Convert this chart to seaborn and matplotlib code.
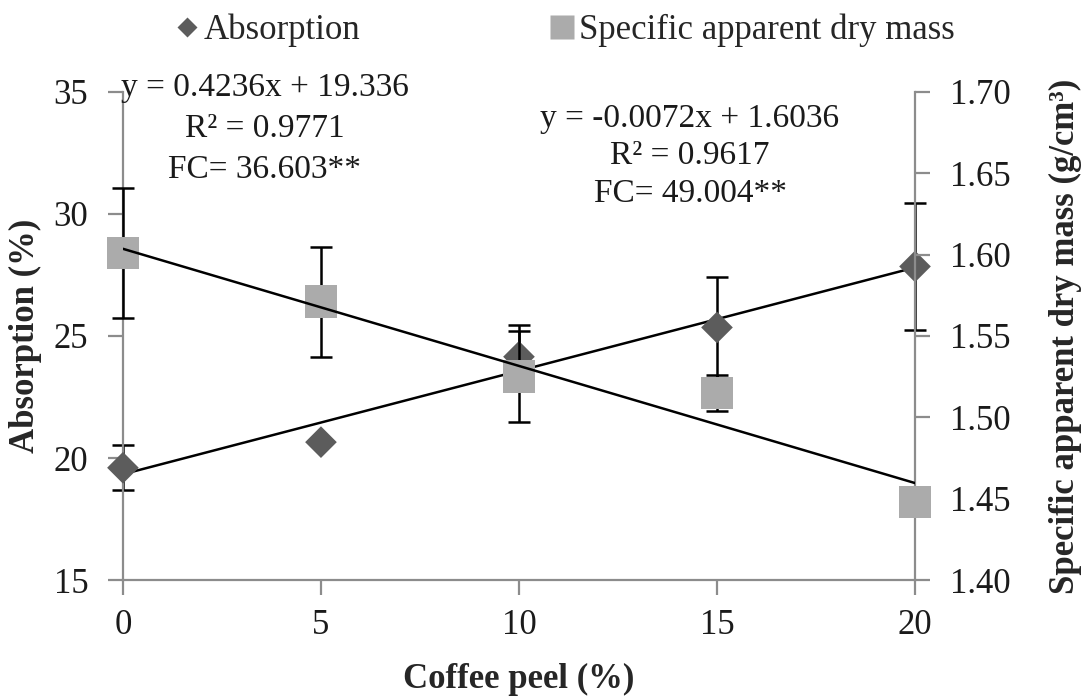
import numpy as np
import pandas as pd
import matplotlib
matplotlib.use("Agg")
import matplotlib.pyplot as plt
from matplotlib.lines import Line2D
import seaborn as sns

# data
coffee_peel = [0, 5, 10, 15, 20]
absorption = [19.6, 20.65, 24.15, 25.35, 27.85]
absorption_err = [0.93, 0.0, 1.3, 2.07, 2.6]
dry_mass = [1.601, 1.571, 1.525, 1.515, 1.448]
dry_mass_err = [0.04, 0.034, 0.028, 0.011, 0.0]

# regression coefficients printed on the chart
abs_fit = (0.4236, 19.336)
mass_fit = (-0.0072, 1.6036)

left_ticks = [15, 20, 25, 30, 35]
right_ticks = [1.40, 1.45, 1.50, 1.55, 1.60, 1.65, 1.70]

sns.set_style("white")
plt.rcParams['font.family'] = ['Liberation Serif', 'DejaVu Serif']

df = pd.DataFrame({"peel": coffee_peel, "absorption": absorption, "mass": dry_mass})
xs = np.array(coffee_peel, dtype=float)
df["abs_line"] = abs_fit[0] * xs + abs_fit[1]
df["mass_line"] = mass_fit[0] * xs + mass_fit[1]

diamond_col = "#5c5c5c"
square_col = "#ababab"
axis_col = "#8c8c8c"

fig = plt.figure(figsize=(10.88, 7.0), dpi=100)
ax = fig.add_axes([0.113, 0.1714, 0.728, 0.6972])
ax2 = ax.twinx()

# absorption on left axis
eb = ax.errorbar(coffee_peel, absorption, yerr=absorption_err, fmt="none",
                 ecolor="black", elinewidth=1.8, capsize=8, capthick=1.8, zorder=2)
for art in eb.get_children():
    art.set_clip_on(False)
sns.lineplot(data=df, x="peel", y="abs_line", ax=ax, color="black", lw=1.8, zorder=3)
sns.scatterplot(data=df, x="peel", y="absorption", ax=ax, marker="D", s=260,
                color=diamond_col, edgecolor="none", zorder=4, clip_on=False)

# dry mass on right axis
eb2 = ax2.errorbar(coffee_peel, dry_mass, yerr=dry_mass_err, fmt="none",
                   ecolor="black", elinewidth=1.8, capsize=8, capthick=1.8, zorder=2)
for art in eb2.get_children():
    art.set_clip_on(False)
sns.scatterplot(data=df, x="peel", y="mass", ax=ax2, marker="s", s=560,
                color=square_col, edgecolor="none", zorder=3, clip_on=False)
sns.lineplot(data=df, x="peel", y="mass_line", ax=ax2, color="black", lw=1.8, zorder=4)

ax.set_xlim(0, 20)
ax.set_ylim(15, 35)
ax2.set_ylim(1.40, 1.70)
ax.set_xticks(coffee_peel)
ax.set_yticks(left_ticks)
ax2.set_yticks(right_ticks)
ax2.set_yticklabels([f"{t:.2f}" for t in right_ticks])

for a in (ax, ax2):
    a.spines["top"].set_visible(False)
    for side in ("left", "right", "bottom"):
        a.spines[side].set_color(axis_col)
        a.spines[side].set_linewidth(1.6)
ax.spines["right"].set_visible(False)
ax2.spines["left"].set_visible(False)
ax2.spines["bottom"].set_visible(False)

ax.tick_params(axis="both", direction="out", length=11, width=1.6, color=axis_col,
               labelsize=25, labelcolor="#1a1a1a")
ax.tick_params(axis="y", pad=14, left=True)
ax.tick_params(axis="x", pad=10, bottom=True)
ax2.tick_params(axis="y", direction="out", length=11, width=1.6, color=axis_col,
                labelsize=25, labelcolor="#1a1a1a", pad=14, right=True)

ax.set_xlabel("Coffee peel (%)", fontsize=25, fontweight="bold", labelpad=15)
ax.set_ylabel("Absorption (%)", fontsize=25, fontweight="bold", labelpad=8)
ax2.set_ylabel("Specific apparent dry mass (g/cm\u00b3)", fontsize=25,
               fontweight="bold", labelpad=28, rotation=90)

ax.annotate("y = 0.4236x + 19.336\nR\u00b2 = 0.9771\nFC= 36.603**",
            xy=(0.179, 1.0), xycoords="axes fraction", xytext=(0, 14),
            textcoords="offset points", ha="center", va="top",
            fontsize=24, linespacing=1.45, color="#1a1a1a")
ax.annotate("y = -0.0072x + 1.6036\nR\u00b2 = 0.9617\nFC= 49.004**",
            xy=(0.716, 1.0), xycoords="axes fraction", xytext=(0, -8),
            textcoords="offset points", ha="center", va="top",
            fontsize=24, linespacing=1.3, color="#1a1a1a")

handles = [
    Line2D([], [], ls="none", marker="D", ms=10, color=diamond_col, mec="none"),
    Line2D([], [], ls="none", marker="s", ms=17, color=square_col, mec="none"),
]
fig.legend(handles, ["Absorption", "Specific apparent dry mass"],
           loc="upper center", bbox_to_anchor=(0.52, 1.025), ncol=2, frameon=False,
           fontsize=25, handlelength=0.6, handletextpad=0.2, columnspacing=5.5)

fig.savefig("out.png", dpi=100)
